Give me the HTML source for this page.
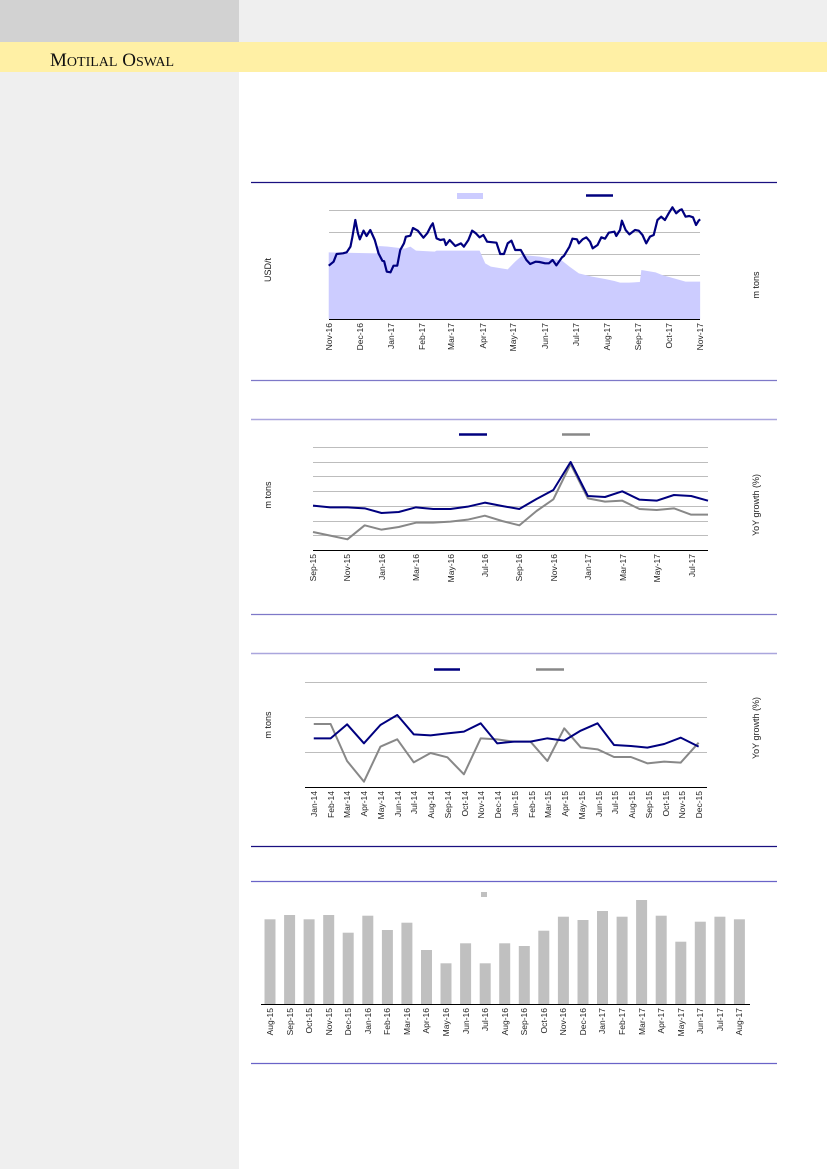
<!DOCTYPE html>
<html><head><meta charset="utf-8"><style>
html,body{margin:0;padding:0;}
body{width:827px;height:1169px;position:relative;background:#fff;overflow:hidden;font-family:"Liberation Sans",sans-serif;}
svg{position:absolute;left:0;top:0;}
</style></head><body>
<svg width="827" height="1169" viewBox="0 0 827 1169" xmlns="http://www.w3.org/2000/svg" font-family="Liberation Sans, sans-serif">
<rect x="0" y="0" width="827" height="42" fill="#efefef"/>
<rect x="0" y="0" width="239" height="42" fill="#d2d2d2"/>
<rect x="0" y="42" width="827" height="30" fill="#fff0a5"/>
<rect x="0" y="72" width="239" height="1097" fill="#efefef"/>
<text x="50" y="66" font-family="Liberation Serif, serif" font-size="19" fill="#111">M<tspan font-size="14">OTILAL</tspan> O<tspan font-size="14">SWAL</tspan></text>

<!-- Chart 1 -->
<line x1="251" y1="182.5" x2="777" y2="182.5" stroke="#1a1080" stroke-width="1.3"/>
<rect x="457" y="193" width="26" height="6" fill="#ccccff"/>
<line x1="586" y1="195.5" x2="613" y2="195.5" stroke="#00007f" stroke-width="2.5"/>
<g stroke="#bdbdbd" stroke-width="1">
<line x1="329" y1="210.5" x2="700" y2="210.5"/><line x1="329" y1="232.5" x2="700" y2="232.5"/><line x1="329" y1="254.5" x2="700" y2="254.5"/><line x1="329" y1="275.5" x2="700" y2="275.5"/><line x1="329" y1="297.5" x2="700" y2="297.5"/>
</g>
<g transform="translate(240,0) scale(0.3744,0.33333)">
<polygon fill="#ccccff" points="237,757 365,760 370,738 395,740 440,746 455,740 470,752 520,755 525,752 640,752 655,790 670,800 715,808 735,785 755,765 800,770 860,782 880,800 905,820 940,830 975,837 1000,843 1015,848 1040,848 1068,846 1072,810 1110,817 1130,826 1150,832 1190,845 1229,845 1229,957 237,957"/>
<polyline fill="none" stroke="#00007f" stroke-width="2.2" vector-effect="non-scaling-stroke" stroke-linejoin="round" points="237,797 250,785 258,762 275,760 285,757 295,740 300,712 308,660 315,700 320,718 330,692 338,708 348,690 360,720 370,760 380,782 385,784 392,815 402,817 410,797 420,797 428,750 438,730 443,710 455,707 462,684 475,692 490,713 500,700 510,678 515,670 525,715 535,720 545,718 550,735 560,720 575,738 590,730 598,740 610,720 620,692 630,700 640,712 650,705 660,725 685,728 695,762 705,762 715,730 725,722 735,750 750,750 755,760 765,780 775,792 790,785 800,786 815,790 825,790 835,780 845,796 860,772 865,768 880,740 888,716 900,718 905,730 915,718 925,712 935,725 942,745 955,735 965,712 975,716 985,698 1000,695 1005,708 1015,690 1020,662 1030,690 1040,703 1055,690 1065,692 1075,705 1085,730 1095,710 1105,705 1115,660 1125,650 1135,660 1145,640 1155,622 1165,640 1175,630 1180,628 1190,650 1200,648 1210,652 1218,675 1225,662 1229,658"/>
</g>
<line x1="329" y1="319.5" x2="700" y2="319.5" stroke="#000" stroke-width="1"/>
<g font-size="8.5" fill="#222" text-anchor="end">
<text transform="translate(332,323) rotate(-90)">Nov-16</text>
<text transform="translate(363,323) rotate(-90)">Dec-16</text>
<text transform="translate(394,323) rotate(-90)">Jan-17</text>
<text transform="translate(425,323) rotate(-90)">Feb-17</text>
<text transform="translate(454,323) rotate(-90)">Mar-17</text>
<text transform="translate(486,323) rotate(-90)">Apr-17</text>
<text transform="translate(516,323) rotate(-90)">May-17</text>
<text transform="translate(548,323) rotate(-90)">Jun-17</text>
<text transform="translate(579,323) rotate(-90)">Jul-17</text>
<text transform="translate(610,323) rotate(-90)">Aug-17</text>
<text transform="translate(641,323) rotate(-90)">Sep-17</text>
<text transform="translate(672,323) rotate(-90)">Oct-17</text>
<text transform="translate(703,323) rotate(-90)">Nov-17</text>
</g>
<g font-size="9" fill="#222" text-anchor="middle">
<text transform="translate(271,270) rotate(-90)">USD/t</text>
<text transform="translate(759,285) rotate(-90)">m tons</text>
</g>
<line x1="251" y1="380.5" x2="777" y2="380.5" stroke="#7e78c8" stroke-width="1.3"/>

<!-- Chart 2 -->
<line x1="251" y1="419.5" x2="777" y2="419.5" stroke="#aaa6dd" stroke-width="1.5"/>
<line x1="459" y1="434.5" x2="487" y2="434.5" stroke="#00007f" stroke-width="2.5"/>
<line x1="562" y1="434.5" x2="590" y2="434.5" stroke="#888" stroke-width="2.5"/>
<g stroke="#bdbdbd" stroke-width="1">
<line x1="313" y1="447.5" x2="708" y2="447.5"/><line x1="313" y1="462.5" x2="708" y2="462.5"/><line x1="313" y1="476.5" x2="708" y2="476.5"/><line x1="313" y1="491.5" x2="708" y2="491.5"/><line x1="313" y1="506.5" x2="708" y2="506.5"/><line x1="313" y1="521.5" x2="708" y2="521.5"/><line x1="313" y1="535.5" x2="708" y2="535.5"/>
</g>
<g transform="translate(240,400) scale(0.3744,0.33333)" fill="none" stroke-linejoin="round">
<polyline stroke="#888" stroke-width="2" vector-effect="non-scaling-stroke" points="195,396 241,407 287,418 333,376 378,389 424,381 470,368 516,368 562,365 608,359 654,347 700,363 746,376 792,333 837,298 883,192 929,295 975,305 1021,302 1067,327 1113,330 1159,325 1205,344 1250,344"/>
<polyline stroke="#00007f" stroke-width="2" vector-effect="non-scaling-stroke" points="195,317 241,322 287,322 333,325 378,339 424,336 470,322 516,327 562,327 608,320 654,308 700,318 746,327 792,297 837,270 883,186 929,288 975,291 1021,274 1067,299 1113,302 1159,285 1205,288 1250,302"/>
</g>
<line x1="313" y1="550.5" x2="708" y2="550.5" stroke="#000" stroke-width="1"/>
<g font-size="8.5" fill="#222" text-anchor="end">
<text transform="translate(316,554) rotate(-90)">Sep-15</text>
<text transform="translate(350,554) rotate(-90)">Nov-15</text>
<text transform="translate(385,554) rotate(-90)">Jan-16</text>
<text transform="translate(419,554) rotate(-90)">Mar-16</text>
<text transform="translate(454,554) rotate(-90)">May-16</text>
<text transform="translate(488,554) rotate(-90)">Jul-16</text>
<text transform="translate(522,554) rotate(-90)">Sep-16</text>
<text transform="translate(557,554) rotate(-90)">Nov-16</text>
<text transform="translate(591,554) rotate(-90)">Jan-17</text>
<text transform="translate(626,554) rotate(-90)">Mar-17</text>
<text transform="translate(660,554) rotate(-90)">May-17</text>
<text transform="translate(695,554) rotate(-90)">Jul-17</text>
</g>
<g font-size="9" fill="#222" text-anchor="middle">
<text transform="translate(271,495) rotate(-90)">m tons</text>
<text transform="translate(759,505) rotate(-90)">YoY growth (%)</text>
</g>
<line x1="251" y1="614.5" x2="777" y2="614.5" stroke="#7e78c8" stroke-width="1.3"/>

<!-- Chart 3 -->
<line x1="251" y1="653.5" x2="777" y2="653.5" stroke="#aaa6dd" stroke-width="1.5"/>
<line x1="434" y1="669.5" x2="460" y2="669.5" stroke="#00007f" stroke-width="2.5"/>
<line x1="536" y1="669.5" x2="564" y2="669.5" stroke="#888" stroke-width="2.5"/>
<g stroke="#bdbdbd" stroke-width="1">
<line x1="305" y1="682.5" x2="707" y2="682.5"/><line x1="305" y1="717.5" x2="707" y2="717.5"/><line x1="305" y1="752.5" x2="707" y2="752.5"/>
</g>
<g transform="translate(240,400) scale(0.3744,0.33333)" fill="none" stroke-linejoin="round">
<polyline stroke="#888" stroke-width="2" vector-effect="non-scaling-stroke" points="197,972 242,972 286,1083 331,1145 375,1040 420,1018 464,1087 509,1059 554,1072 598,1123 643,1015 687,1018 732,1025 776,1025 821,1083 866,985 910,1042 955,1048 999,1071 1044,1071 1088,1090 1133,1085 1177,1088 1225,1028"/>
<polyline stroke="#00007f" stroke-width="2" vector-effect="non-scaling-stroke" points="197,1015 242,1015 286,973 331,1030 375,975 420,945 464,1003 509,1006 554,1000 598,995 643,970 687,1030 732,1025 776,1025 821,1015 866,1022 910,992 955,970 999,1035 1044,1038 1088,1043 1133,1032 1177,1013 1225,1040"/>
</g>
<line x1="305" y1="787.5" x2="707" y2="787.5" stroke="#000" stroke-width="1"/>
<g font-size="8.5" fill="#222" text-anchor="end">
<text transform="translate(317,791) rotate(-90)">Jan-14</text>
<text transform="translate(334,791) rotate(-90)">Feb-14</text>
<text transform="translate(350,791) rotate(-90)">Mar-14</text>
<text transform="translate(367,791) rotate(-90)">Apr-14</text>
<text transform="translate(384,791) rotate(-90)">May-14</text>
<text transform="translate(401,791) rotate(-90)">Jun-14</text>
<text transform="translate(417,791) rotate(-90)">Jul-14</text>
<text transform="translate(434,791) rotate(-90)">Aug-14</text>
<text transform="translate(451,791) rotate(-90)">Sep-14</text>
<text transform="translate(468,791) rotate(-90)">Oct-14</text>
<text transform="translate(484,791) rotate(-90)">Nov-14</text>
<text transform="translate(501,791) rotate(-90)">Dec-14</text>
<text transform="translate(518,791) rotate(-90)">Jan-15</text>
<text transform="translate(535,791) rotate(-90)">Feb-15</text>
<text transform="translate(551,791) rotate(-90)">Mar-15</text>
<text transform="translate(568,791) rotate(-90)">Apr-15</text>
<text transform="translate(585,791) rotate(-90)">May-15</text>
<text transform="translate(602,791) rotate(-90)">Jun-15</text>
<text transform="translate(618,791) rotate(-90)">Jul-15</text>
<text transform="translate(635,791) rotate(-90)">Aug-15</text>
<text transform="translate(652,791) rotate(-90)">Sep-15</text>
<text transform="translate(669,791) rotate(-90)">Oct-15</text>
<text transform="translate(685,791) rotate(-90)">Nov-15</text>
<text transform="translate(702,791) rotate(-90)">Dec-15</text>
</g>
<g font-size="9" fill="#222" text-anchor="middle">
<text transform="translate(271,725) rotate(-90)">m tons</text>
<text transform="translate(759,728) rotate(-90)">YoY growth (%)</text>
</g>
<line x1="251" y1="846.5" x2="777" y2="846.5" stroke="#1a1080" stroke-width="1.3"/>

<!-- Chart 4 -->
<line x1="251" y1="881.5" x2="777" y2="881.5" stroke="#6a63c8" stroke-width="1.3"/>
<rect x="481" y="892" width="6" height="5" fill="#c0c0c0"/>
<g fill="#c0c0c0">
<rect x="264.5" y="919.3" width="11" height="84.7"/>
<rect x="284.1" y="915" width="11" height="89"/>
<rect x="303.6" y="919.3" width="11" height="84.7"/>
<rect x="323.2" y="915" width="11" height="89"/>
<rect x="342.7" y="932.7" width="11" height="71.3"/>
<rect x="362.3" y="915.7" width="11" height="88.3"/>
<rect x="381.9" y="930" width="11" height="74"/>
<rect x="401.4" y="922.7" width="11" height="81.3"/>
<rect x="421" y="950" width="11" height="54"/>
<rect x="440.5" y="963.3" width="11" height="40.7"/>
<rect x="460.1" y="943.3" width="11" height="60.7"/>
<rect x="479.7" y="963.3" width="11" height="40.7"/>
<rect x="499.2" y="943.3" width="11" height="60.7"/>
<rect x="518.8" y="946" width="11" height="58"/>
<rect x="538.3" y="930.7" width="11" height="73.3"/>
<rect x="557.9" y="916.7" width="11" height="87.3"/>
<rect x="577.5" y="920" width="11" height="84"/>
<rect x="597" y="911" width="11" height="93"/>
<rect x="616.6" y="916.7" width="11" height="87.3"/>
<rect x="636.1" y="900" width="11" height="104"/>
<rect x="655.7" y="915.7" width="11" height="88.3"/>
<rect x="675.3" y="941.7" width="11" height="62.3"/>
<rect x="694.8" y="921.7" width="11" height="82.3"/>
<rect x="714.4" y="916.7" width="11" height="87.3"/>
<rect x="733.9" y="919.3" width="11" height="84.7"/>
</g>
<line x1="261" y1="1004.5" x2="750" y2="1004.5" stroke="#000" stroke-width="1"/>
<g font-size="8.5" fill="#222" text-anchor="end">
<text transform="translate(273,1008) rotate(-90)">Aug-15</text>
<text transform="translate(293,1008) rotate(-90)">Sep-15</text>
<text transform="translate(312,1008) rotate(-90)">Oct-15</text>
<text transform="translate(332,1008) rotate(-90)">Nov-15</text>
<text transform="translate(351,1008) rotate(-90)">Dec-15</text>
<text transform="translate(371,1008) rotate(-90)">Jan-16</text>
<text transform="translate(390,1008) rotate(-90)">Feb-16</text>
<text transform="translate(410,1008) rotate(-90)">Mar-16</text>
<text transform="translate(429,1008) rotate(-90)">Apr-16</text>
<text transform="translate(449,1008) rotate(-90)">May-16</text>
<text transform="translate(469,1008) rotate(-90)">Jun-16</text>
<text transform="translate(488,1008) rotate(-90)">Jul-16</text>
<text transform="translate(508,1008) rotate(-90)">Aug-16</text>
<text transform="translate(527,1008) rotate(-90)">Sep-16</text>
<text transform="translate(547,1008) rotate(-90)">Oct-16</text>
<text transform="translate(566,1008) rotate(-90)">Nov-16</text>
<text transform="translate(586,1008) rotate(-90)">Dec-16</text>
<text transform="translate(605,1008) rotate(-90)">Jan-17</text>
<text transform="translate(625,1008) rotate(-90)">Feb-17</text>
<text transform="translate(645,1008) rotate(-90)">Mar-17</text>
<text transform="translate(664,1008) rotate(-90)">Apr-17</text>
<text transform="translate(684,1008) rotate(-90)">May-17</text>
<text transform="translate(703,1008) rotate(-90)">Jun-17</text>
<text transform="translate(723,1008) rotate(-90)">Jul-17</text>
<text transform="translate(742,1008) rotate(-90)">Aug-17</text>
</g>
<line x1="251" y1="1063.5" x2="777" y2="1063.5" stroke="#6a63c8" stroke-width="1.3"/>
</svg>
</body></html>
